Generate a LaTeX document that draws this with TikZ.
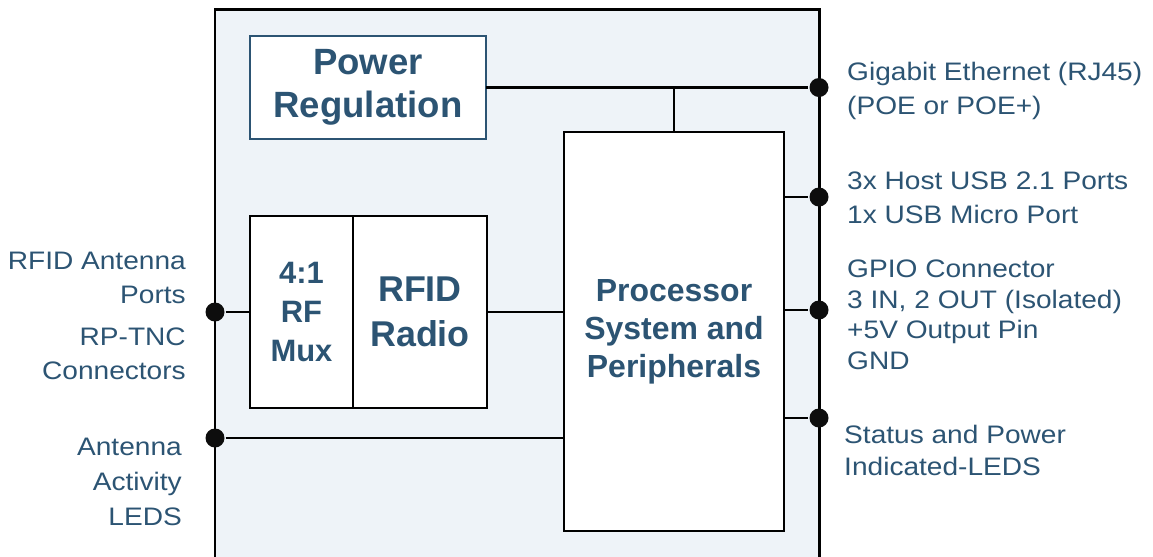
\documentclass[tikz,border=0pt]{standalone}
\usepackage{fontspec}
\setmainfont{Liberation Sans}
\newfontfamily\lblfont[FakeStretch=1.11]{Liberation Sans}
\usetikzlibrary{positioning}
\definecolor{txtblue}{RGB}{44,84,115}
\definecolor{panel}{RGB}{238,243,248}

\begin{document}
\begin{tikzpicture}[x=0.02cm, y=-0.02cm,
            line width=1.4pt,
            box/.style = {draw,fill=white,align=center,
                inner sep=0pt,outer sep=0pt,text=txtblue},
            lbl/.style = {inner sep=0pt,text=txtblue,
                font=\lblfont\fontsize{14.4}{19.3}\selectfont},
            dot/.style = {circle,fill=black!95,inner sep=0pt,minimum size=0.38cm}]
            \useasboundingbox (0,0) rectangle (1153,556);
            % reader housing, open at the bottom
            \fill[panel] (215,9) rectangle (819,570);
            \draw[line width=1.7pt] (215,570) |- (819,9) -- (819,570);
            \node[box,draw=txtblue,minimum width=4.72cm,minimum height=2.06cm,
                font=\bfseries\fontsize{20.8}{24.2}\selectfont] (power) at (368,87.5) {Power\\Regulation};
            \node[box,minimum width=2.06cm,minimum height=3.84cm,
                font=\bfseries\fontsize{17.6}{22.4}\selectfont] (mux) at (301.5,312) {4:1\\RF\\Mux};
            \node[box,right=0pt of mux,minimum width=2.68cm,minimum height=3.84cm,
                font=\bfseries\fontsize{20.4}{25.5}\selectfont] (radio) {RFID\\Radio};
            \node[box,minimum width=4.4cm,minimum height=7.98cm,
                font=\bfseries\fontsize{18.2}{21.7}\selectfont] (proc) at (674,331.5) {Processor\\System and\\Peripherals};
            % ports
            \node[dot] (eth) at (819,87.5) {};
            \node[dot] (usb) at (819,197) {};
            \node[dot] (gpio) at (819,310) {};
            \node[dot] (stat) at (819,418) {};
            \node[dot] (ant) at (215,312) {};
            \node[dot] (act) at (215,438) {};
            \draw (power.east |- eth) -- (eth);
            \draw (proc.north) -- (proc.north |- eth);
            \draw (radio.east) -- (radio.east -| proc.west);
            \draw (ant) -- (mux.west);
            \draw (act) -- (act -| proc.west);
            \foreach \p in {usb,gpio,stat}
                \draw (\p -| proc.east) -- (\p);
            % port labels
            \node[lbl,anchor=north west,align=left] (ethtxt) at (846,61) {Gigabit Ethernet (RJ45)\\(POE or POE+)};
            \node[lbl,anchor=north west,align=left] (usbtxt) at (846,171) {3x Host USB 2.1 Ports\\1x USB Micro Port};
            \node[lbl,anchor=north west,align=left,font=\lblfont\fontsize{14.4}{17.3}\selectfont] (gpiotxt) at (846,259)
                {GPIO Connector\\3 IN, 2 OUT (Isolated)\\+5V Output Pin\\GND};
            \node[lbl,anchor=north west,align=left,font=\lblfont\fontsize{14.4}{18.3}\selectfont] (stattxt) at (843,424)
                {Status and Power\\Indicated-LEDS};
            \node[lbl,anchor=north east,align=right] (anttxt) at (187,251) {RFID Antenna\\Ports};
            \node[lbl,anchor=north east,align=right] (tnctxt) at (187,327) {RP-TNC\\Connectors};
            \node[lbl,anchor=north east,align=right,font=\lblfont\fontsize{14.4}{19.8}\selectfont] (acttxt) at (183,437)
                {Antenna\\Activity\\LEDS};
        \end{tikzpicture}
\end{document}
